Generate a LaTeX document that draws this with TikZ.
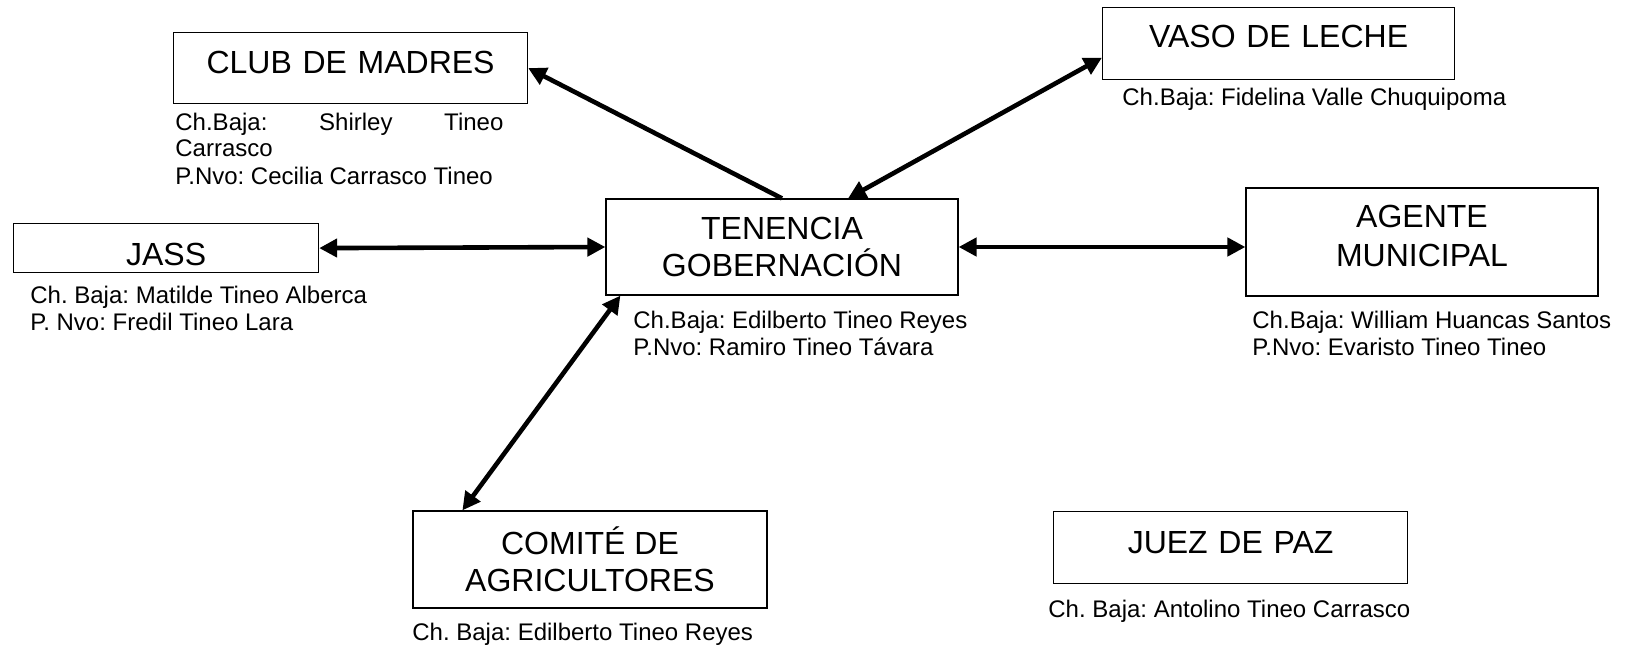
\documentclass[tikz,border=0pt]{standalone}
\usepackage{fontspec}
\setmainfont{Liberation Sans}
\usepackage{tikz}
\usetikzlibrary{positioning}
\usetikzlibrary{arrows.meta}
\usetikzlibrary{calc}

\tikzset{
  box/.style={draw, line width=0.6pt, inner sep=0pt, align=center, font=\fontsize{16}{18.5}\selectfont},
  captxt/.style={inner sep=0pt, anchor=base west, align=left, font=\fontsize{12}{13.5}\selectfont\frenchspacing},
  link/.style={line width=2.3pt, {Triangle[length=9pt,width=9pt]}-{Triangle[length=9pt,width=9pt]}}
}

\begin{document}
\begin{tikzpicture}[x=0.5pt, y=-0.5pt]
\useasboundingbox (0,0) rectangle (1635,648);

% boxes
\node[box, anchor=north west, text width=177pt, text height=20.5pt, text depth=15pt] (club) at (173,32) {CLUB DE MADRES};
\node[box, anchor=north west, text width=176pt, text height=20pt, text depth=16pt] (vaso) at (1102,7) {VASO DE LECHE};
\node[box, anchor=north west, text width=152.5pt, text height=21pt, text depth=3.5pt] (jass) at (13,223) {JASS};
\node[box, minimum width=176pt, minimum height=48pt] (ten) at (782,247) {TENENCIA\\GOBERNACIÓN};
\node[box, minimum width=176pt, minimum height=54pt, text depth=6pt] (agente) at (1422,242) {AGENTE\\[1pt]MUNICIPAL};
\node[box, minimum width=177pt, minimum height=48.5pt] (comite) at (590,559.5) {COMITÉ DE\\AGRICULTORES};
\node[box, anchor=north west, text width=177pt, text height=21pt, text depth=15pt] (juez) at (1053,511) {JUEZ DE PAZ};

% captions (anchored on the last line)
\node[captxt] (capclub) at (175,184) {\makebox[164pt][s]{Ch.Baja:\hfill Shirley\hfill Tineo}\\Carrasco\\P.Nvo: Cecilia Carrasco Tineo};
\node[captxt] (capvaso) at (1122,105) {Ch.Baja: Fidelina Valle Chuquipoma};
\node[captxt] (capjass) at (30,330) {Ch. Baja: Matilde Tineo Alberca\\P. Nvo: Fredil Tineo Lara};
\node[captxt] (capten) at (633,355) {Ch.Baja: Edilberto Tineo Reyes\\P.Nvo: Ramiro Tineo Távara};
\node[captxt] (capagente) at (1252,355) {Ch.Baja: William Huancas Santos\\P.Nvo: Evaristo Tineo Tineo};
\node[captxt] (capcomite) at (412,640) {Ch. Baja: Edilberto Tineo Reyes};
\node[captxt] (capjuez) at (1048,617) {Ch. Baja: Antolino Tineo Carrasco};

% links
\draw[link, {Triangle[length=9pt,width=9pt]}-] (club.east) -- (ten.north);
\draw[link] ([xshift=33pt]ten.north) -- ([yshift=-7pt]vaso.west);
\draw[link] (jass.east) -- (ten.west);
\draw[link] (ten.east) -- (ten.east -| agente.west);
\draw[link] ([xshift=7.5pt]ten.south west) -- ([xshift=25pt]comite.north west);
\end{tikzpicture}
\end{document}
